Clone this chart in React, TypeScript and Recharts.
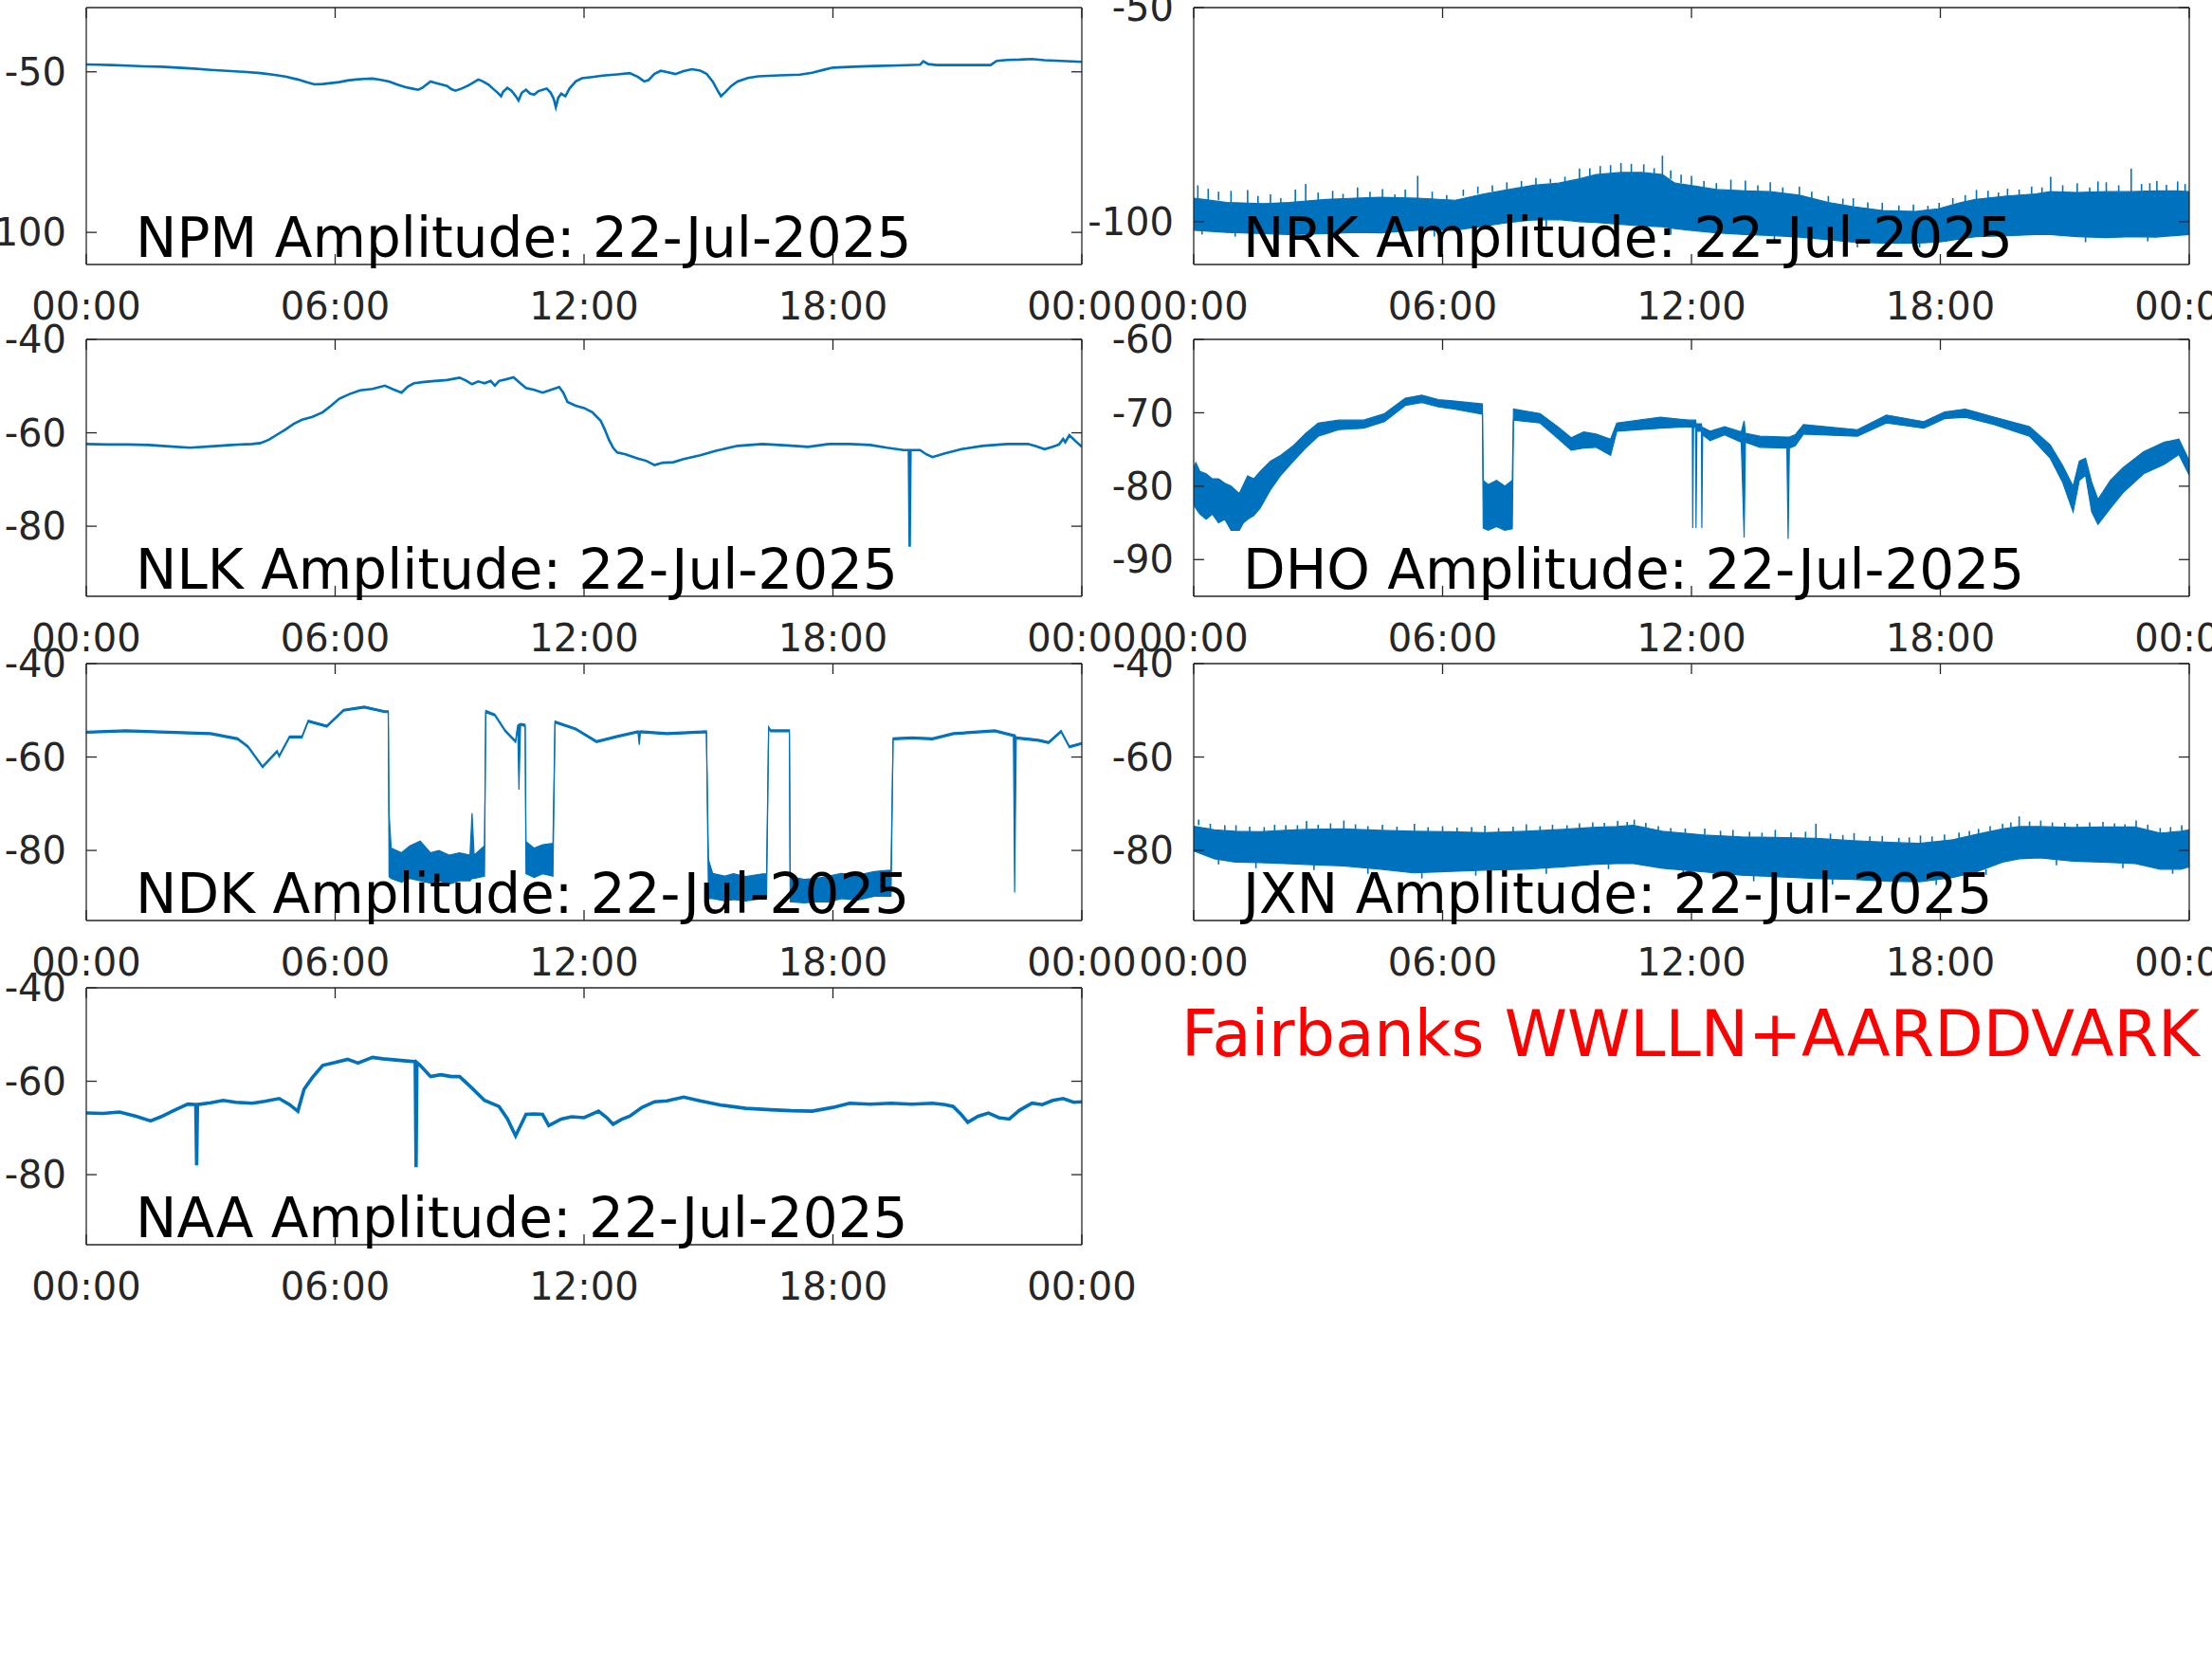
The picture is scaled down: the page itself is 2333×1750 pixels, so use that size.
import React from 'react';
import { ComposedChart, Line, Area, XAxis, YAxis, ReferenceLine } from 'recharts';

const BLUE = '#0072BD';
const AXIS = '#262626';
const FONT = '"DejaVu Sans", Verdana, sans-serif';

const hourTicks = [0, 6, 12, 18, 24];
const hourLabels = ['00:00', '06:00', '12:00', '18:00', '00:00'];
const dateLabel = '22-Jul-2025';
const siteLabel = 'Fairbanks WWLLN+AARDDVARK';

// thin traces: [hour, dB]
const npmTrace: [number, number][] = [
  [0, -47.7], [0.3, -47.8], [0.6, -47.9], [1.0, -48.1], [1.4, -48.3], [1.8, -48.4], [2.2, -48.7],
  [2.6, -49.0], [3.0, -49.4], [3.4, -49.7], [3.8, -50.0], [4.2, -50.4], [4.5, -50.9], [4.8, -51.5],
  [5.1, -52.4], [5.3, -53.2], [5.5, -53.9], [5.7, -53.8], [5.9, -53.5], [6.1, -53.2], [6.3, -52.7],
  [6.5, -52.4], [6.7, -52.2], [6.9, -52.1], [7.1, -52.5], [7.3, -53.0], [7.5, -54.0], [7.7, -54.8],
  [7.85, -55.2], [8.0, -55.6], [8.1, -55.0], [8.2, -54.0], [8.3, -53.0], [8.4, -53.4], [8.55, -53.9],
  [8.7, -54.4], [8.8, -55.4], [8.9, -55.9], [9.05, -55.2], [9.2, -54.3], [9.35, -53.2], [9.45, -52.4],
  [9.55, -52.9], [9.7, -54.0], [9.8, -55.2], [9.9, -56.3], [10.0, -57.6], [10.05, -56.2], [10.15, -55.0],
  [10.25, -55.9], [10.35, -57.5], [10.42, -58.9], [10.5, -56.5], [10.6, -55.6], [10.7, -56.8],
  [10.8, -57.1], [10.9, -56.0], [11.0, -55.6], [11.1, -55.2], [11.2, -56.6], [11.27, -58.5],
  [11.32, -61.0], [11.38, -58.0], [11.45, -56.8], [11.55, -57.6], [11.65, -55.2], [11.8, -53.0],
  [11.95, -52.0], [12.2, -51.6], [12.45, -51.2], [12.8, -50.8], [13.1, -50.4], [13.3, -51.6],
  [13.45, -53.0], [13.55, -52.6], [13.7, -50.6], [13.85, -49.7], [14.0, -50.1], [14.2, -50.7],
  [14.4, -49.8], [14.6, -49.2], [14.8, -49.6], [14.95, -50.6], [15.1, -53.0], [15.25, -56.5],
  [15.3, -57.6], [15.4, -56.4], [15.55, -54.4], [15.7, -53.0], [15.95, -51.9], [16.2, -51.4],
  [16.7, -51.1], [17.2, -50.9], [17.5, -50.3], [17.8, -49.3], [18.0, -48.7], [18.5, -48.4],
  [19.0, -48.2], [19.6, -48.0], [20.1, -47.8], [20.18, -46.7], [20.3, -47.6], [20.5, -47.9],
  [21.0, -47.9], [21.5, -47.9], [21.8, -47.9], [21.95, -46.6], [22.2, -46.3], [22.5, -46.2],
  [22.8, -46.0], [23.1, -46.4], [23.5, -46.6], [24.0, -46.9],
];

const nlkTrace: [number, number][] = [
  [0, -62.4], [0.5, -62.5], [1.0, -62.5], [1.5, -62.6], [2.0, -62.9], [2.5, -63.2], [3.0, -62.9],
  [3.5, -62.6], [4.0, -62.4], [4.2, -62.2], [4.4, -61.5], [4.6, -60.4], [4.8, -59.3], [5.0, -58.1],
  [5.2, -57.2], [5.45, -56.6], [5.7, -55.6], [5.9, -54.2], [6.1, -52.7], [6.35, -51.7], [6.6, -50.9],
  [6.9, -50.6], [7.2, -49.9], [7.4, -50.7], [7.6, -51.4], [7.75, -50.1], [7.9, -49.4], [8.15, -49.1],
  [8.4, -48.9], [8.7, -48.7], [9.0, -48.2], [9.15, -48.8], [9.3, -49.6], [9.45, -49.0], [9.6, -49.4],
  [9.75, -48.9], [9.85, -49.9], [9.95, -48.9], [10.1, -48.6], [10.3, -48.1], [10.45, -49.3],
  [10.6, -50.4], [10.8, -50.8], [11.0, -51.4], [11.2, -50.8], [11.4, -50.2], [11.5, -51.4],
  [11.6, -53.4], [11.8, -54.2], [12.0, -54.7], [12.2, -55.6], [12.4, -57.4], [12.5, -59.3],
  [12.6, -61.5], [12.7, -63.2], [12.8, -64.2], [13.0, -64.6], [13.3, -65.5], [13.5, -66.0],
  [13.7, -66.9], [13.9, -66.4], [14.15, -66.3], [14.4, -65.6], [14.8, -64.8], [15.2, -63.8],
  [15.7, -62.8], [16.0, -62.6], [16.3, -62.4], [16.9, -62.7], [17.4, -63.0], [17.9, -62.4],
  [18.4, -62.4], [18.9, -62.6], [19.3, -63.2], [19.7, -63.7], [19.83, -63.7], [19.85, -84.4],
  [19.87, -63.7], [20.1, -63.7], [20.25, -64.6], [20.4, -65.2], [20.7, -64.4], [21.1, -63.5],
  [21.6, -62.8], [22.2, -62.4], [22.7, -62.4], [22.9, -62.9], [23.1, -63.5], [23.3, -63.0],
  [23.45, -62.5], [23.55, -61.3], [23.6, -62.0], [23.7, -60.5], [23.85, -61.8], [24, -63],
];

const naaTrace: [number, number][] = [
  [0, -66.8], [0.4, -66.9], [0.8, -66.6], [1.2, -67.5], [1.55, -68.5], [1.8, -67.6], [2.1, -66.3],
  [2.45, -64.9], [2.64, -65], [2.66, -78], [2.68, -65], [3.0, -64.6], [3.3, -64.1], [3.6, -64.5],
  [4.0, -64.7], [4.3, -64.3], [4.65, -63.7], [4.9, -65.0], [5.1, -66.4], [5.25, -61.7], [5.45, -59.2],
  [5.7, -56.6], [6.0, -56.0], [6.3, -55.3], [6.55, -56.1], [6.9, -54.9], [7.15, -55.2], [7.4, -55.4],
  [7.65, -55.6], [7.93, -55.8], [7.95, -78.4], [7.97, -56.0], [8.05, -56.6], [8.3, -59.0],
  [8.55, -58.6], [8.8, -59.0], [9.0, -59.0], [9.3, -61.5], [9.6, -64.1], [9.95, -65.4], [10.15, -68.0],
  [10.35, -71.7], [10.6, -67.1], [10.8, -67.0], [11.0, -67.1], [11.15, -69.5], [11.45, -68.1],
  [11.7, -67.6], [12.0, -67.8], [12.35, -66.4], [12.55, -67.8], [12.7, -69.2], [12.9, -68.2],
  [13.1, -67.5], [13.4, -65.6], [13.7, -64.4], [14.0, -64.2], [14.4, -63.4], [14.8, -64.2],
  [15.3, -65.1], [15.9, -65.8], [16.5, -66.1], [17.0, -66.3], [17.5, -66.4], [18.0, -65.6],
  [18.4, -64.7], [18.9, -64.9], [19.4, -64.7], [19.9, -64.9], [20.4, -64.7], [20.7, -65.0],
  [20.9, -65.4], [21.1, -67.2], [21.25, -68.8], [21.5, -67.5], [21.75, -66.8], [22.0, -67.8],
  [22.25, -68.1], [22.5, -66.2], [22.8, -64.7], [23.05, -65.0], [23.3, -64.1], [23.55, -63.7],
  [23.8, -64.5], [24, -64.4],
];

// noisy traces: [hour, low dB, high dB]
const nrkBand: [number, number, number][] = [
  [0, -102, -94.5], [0.8, -102.5, -95.5], [1.7, -102.8, -95.8], [2.3, -103, -95.5], [3.2, -102.8, -94.8],
  [3.9, -102.5, -94.5], [4.5, -102.6, -94.3], [5.4, -102, -94.5], [6.3, -102, -95], [7.0, -101, -93.5],
  [7.6, -100.2, -92.5], [8.2, -99.6, -91.5], [8.8, -99.5, -91], [9.3, -100, -90], [9.7, -100.2, -89],
  [10.3, -100.6, -88.5], [10.8, -101, -88.5], [11.3, -101.2, -89], [11.6, -101.6, -91], [11.95, -102, -91.5],
  [12.6, -102.6, -92.5], [13.3, -103, -92.8], [13.9, -103.2, -93], [14.6, -103.6, -93.8], [15.3, -104.2, -95.5],
  [15.9, -104.8, -96.5], [16.6, -105, -97.4], [17.4, -105, -97.6], [17.95, -104.8, -97], [18.5, -104, -95.5],
  [18.85, -103.5, -94.8], [19.6, -103.3, -94], [20.3, -103, -93.5], [20.65, -103, -93], [21.3, -103.5, -93.2],
  [22.0, -103.7, -93], [22.6, -103.5, -93], [23.2, -103.6, -92.8], [23.7, -103.2, -92.8], [24, -103, -93],
];

// noise spikes: [hour, from dB, to dB]
const nrkSpikes: [number, number, number][] = [
  [0.1, -95, -91.5], [0.35, -95, -92.3], [0.6, -95, -93], [0.9, -95.5, -92.8], [1.3, -96, -92.6],
  [1.55, -96, -94], [1.85, -96, -93.6], [2.1, -96, -94.5], [2.45, -96, -92.5], [2.7, -96, -91.2],
  [3.0, -95.5, -93.2], [3.35, -95, -92.8], [3.6, -95, -93.5], [3.95, -95, -92], [4.25, -95, -93],
  [4.55, -95, -92.4], [4.85, -95, -93.6], [5.1, -95, -92.5], [5.4, -95, -89.3], [5.75, -95, -93],
  [6.1, -95, -93.8], [6.5, -94, -92.5], [6.85, -93.5, -91.8], [7.2, -93, -91.5], [7.55, -92.5, -90.8],
  [7.9, -92, -90.5], [8.25, -91.5, -89.8], [8.6, -91, -90], [8.95, -91, -89.5], [9.3, -90, -87.6],
  [9.55, -89.5, -87.5], [9.8, -89, -87], [10.05, -89, -86.8], [10.3, -88.5, -86.3], [10.55, -88.5, -86.5],
  [10.85, -88.5, -86.6], [11.1, -89, -87.5], [11.3, -89, -84.6], [11.5, -90, -88], [11.75, -91, -89],
  [12.0, -91.5, -89.3], [12.3, -92, -90.5], [12.6, -92.5, -91], [12.95, -92.8, -90.2], [13.3, -92.8, -90.4],
  [13.6, -93, -91.5], [13.9, -93, -90.8], [14.2, -93.5, -92], [14.6, -93.8, -91.8], [14.9, -94.5, -93],
  [15.3, -95.5, -94], [15.65, -96, -94.6], [15.9, -96.5, -94.5], [16.25, -97, -95.5], [16.6, -97.4, -95.6],
  [17.0, -97.5, -96.2], [17.35, -97.6, -96], [17.7, -97.4, -96.3], [17.97, -97, -95.6], [18.3, -96, -94.5],
  [18.6, -95.5, -93.8], [18.87, -94.8, -92.6], [19.15, -94.5, -92.8], [19.4, -94.3, -93.2], [19.62, -94, -92.3],
  [19.9, -93.8, -92.5], [20.2, -93.5, -91.8], [20.45, -93.2, -92], [20.66, -93, -89.5], [20.95, -93, -91.5],
  [21.3, -93.2, -91], [21.6, -93.2, -92], [21.8, -93, -90.6], [22.0, -93, -90.8], [22.3, -93, -91.5],
  [22.6, -93, -87.6], [22.85, -92.8, -91.2], [23.05, -92.8, -91], [23.22, -92.8, -90.5], [23.45, -92.8, -91.4],
  [23.72, -92.8, -90.6], [23.9, -93, -91.2],
  [0.2, -102, -103], [1.0, -102.5, -103.5], [2.0, -103, -104], [5.8, -102, -103.5], [8.5, -99.5, -101.5],
  [11.5, -101.5, -103], [14.0, -103.2, -104.5], [16.0, -104.8, -106], [17.5, -105, -106], [19.5, -103.3, -104.5],
  [21.5, -103.5, -104.8], [23.0, -103.6, -104.6],
];

const dhoBand: [number, number, number][] = [
  [0, -82.5, -77.5], [0.05, -83, -76.8], [0.15, -83.8, -78], [0.3, -84.5, -78.3], [0.45, -83.8, -79],
  [0.6, -85, -79], [0.75, -84.5, -79.6], [0.9, -86, -80], [1.0, -86, -80.5], [1.1, -86, -81],
  [1.2, -85, -79.8], [1.3, -84.5, -78.6], [1.45, -84, -79], [1.6, -83, -78], [1.85, -80.5, -76.6],
  [2.1, -78.5, -75.8], [2.4, -76.6, -74.5], [2.7, -74.8, -72.8], [3.0, -73.2, -71.4], [3.5, -72.3, -71],
  [4.1, -72.1, -71], [4.6, -71.2, -70.1], [5.1, -69, -68], [5.5, -68.6, -67.6], [5.9, -69.2, -68.2],
  [6.3, -69.5, -68.4], [6.96, -70.2, -68.8], [6.98, -85.7, -79.2], [7.1, -86, -79.8], [7.3, -85.5, -79.2],
  [7.5, -86, -80], [7.68, -85.8, -79.2], [7.71, -71, -69.5], [8.35, -71.4, -70.1], [8.8, -73.6, -72],
  [9.1, -75.1, -73.4], [9.4, -74.8, -72.6], [9.7, -74.7, -72.9], [10.05, -75.8, -73.6], [10.2, -72.5, -71.4],
  [11.25, -72.1, -70.6], [11.95, -71.9, -71], [12.02, -72, -71], [12.03, -85.7, -71], [12.05, -72, -71],
  [12.1, -72, -71], [12.11, -85.7, -71.5], [12.13, -72.5, -71.5], [12.24, -72.5, -71.5],
  [12.25, -85.7, -72], [12.27, -73, -72], [12.45, -73.8, -72.5], [12.8, -73, -71.9], [13.2, -74, -72.6],
  [13.27, -87, -71.1], [13.3, -74, -72.8], [13.65, -74.7, -73.2], [14.3, -74.8, -73.3],
  [14.33, -87.2, -73.3], [14.36, -74.8, -73.3], [14.5, -74.5, -73], [14.7, -72.9, -71.6],
  [16, -73.2, -72.3], [16.7, -71.4, -70.3], [17.6, -72.1, -71.2], [18.1, -70.8, -69.9],
  [18.6, -70.6, -69.5], [19.3, -71.6, -70.6], [20.15, -73.2, -71.9], [20.65, -76.2, -74.4],
  [20.95, -79.5, -77.2], [21.2, -83.5, -80], [21.35, -79.2, -76.6], [21.5, -78.5, -76.2],
  [21.65, -83.5, -79.5], [21.8, -85.2, -81.8], [22.1, -83, -79.2], [22.4, -80.9, -77.5],
  [22.9, -78.3, -75.3], [23.4, -77, -74], [23.75, -75.7, -73.6], [24, -78.5, -76.5],
];

const ndkBand: [number, number, number][] = [
  [0, -54.9, -54.5], [0.95, -54.6, -54.2], [3.0, -55.2, -54.8], [3.65, -56.3, -55.9], [3.9, -58, -57.6],
  [4.25, -62.3, -61.9], [4.6, -59, -58.6], [4.65, -60, -59.6], [4.9, -55.9, -55.5], [5.2, -55.9, -55.5],
  [5.35, -52.5, -52.1], [5.8, -53.6, -53.2], [6.2, -50.2, -49.8], [6.7, -49.5, -49.1], [7.2, -50.5, -50.1],
  [7.28, -50.5, -50.1], [7.3, -85.6, -72], [7.35, -86, -79.5], [7.6, -86.8, -80.5], [7.8, -86, -79],
  [8.05, -86.5, -78], [8.3, -87, -80.5], [8.5, -86.5, -80], [8.75, -87.2, -81], [9.0, -86.5, -80.5],
  [9.25, -86.5, -81], [9.3, -86, -72], [9.35, -86, -81], [9.6, -85.5, -79], [9.63, -50.5, -50],
  [9.85, -51.2, -50.8], [10.1, -54.6, -54.2], [10.35, -56.9, -56.5], [10.4, -53.6, -53.2], [10.43, -67, -53],
  [10.47, -53.2, -52.8], [10.58, -53.5, -53], [10.6, -85, -78.1], [10.8, -85.8, -79.5], [11.0, -85, -78.8],
  [11.25, -85.5, -78.5], [11.3, -52.7, -52.3], [11.8, -54.2, -53.8], [12.3, -56.9, -56.5],
  [12.8, -55.8, -55.4], [13.3, -54.8, -54.4], [13.33, -57.4, -54.5], [13.36, -54.8, -54.4],
  [14.0, -55.2, -54.8], [14.95, -54.8, -54.4], [15.0, -90.3, -82], [15.1, -90.3, -84.9],
  [15.4, -90.8, -85.5], [15.6, -90.5, -85], [15.9, -90.8, -85.6], [16.3, -90.3, -85], [16.4, -90, -85],
  [16.45, -53.9, -53.5], [16.5, -54.6, -54.2], [16.95, -54.6, -54.2], [16.97, -91, -85.6],
  [17.3, -91.2, -86.2], [17.6, -91, -86], [17.9, -91, -85.5], [18.2, -90.3, -84.9], [18.6, -90.6, -85.3],
  [19.0, -89.8, -84.5], [19.4, -89.8, -84.2], [19.45, -56.3, -55.9], [19.9, -56.1, -55.7],
  [20.4, -56.3, -55.9], [20.9, -55.2, -54.8], [21.9, -54.6, -54.2], [22.35, -55.6, -55.2],
  [22.38, -89, -55.2], [22.42, -56.1, -55.7], [22.95, -56.6, -56.2], [23.2, -57.1, -56.7],
  [23.5, -54.7, -54.3], [23.7, -58, -57.6], [24, -57.3, -56.9],
];

const jxnBand: [number, number, number][] = [
  [0, -80.1, -74.8], [0.5, -81.8, -75.6], [1.0, -82.5, -75.9], [1.6, -82.6, -76], [2.2, -82.8, -75.7],
  [2.7, -83, -75.5], [3.6, -83.3, -75.4], [4.5, -84, -75.7], [5.3, -84.8, -75.9], [6.2, -84.5, -76],
  [7.0, -84.2, -76.2], [8.0, -84, -75.9], [8.9, -83.5, -75.5], [9.6, -83, -75.1], [10.2, -82.8, -74.9],
  [10.6, -82.8, -74.6], [11.3, -83.8, -75.9], [12.3, -84.6, -76.7], [13.2, -85.3, -77.1], [14.0, -85.6, -77.2],
  [15.0, -86, -77.4], [15.9, -86.2, -77.9], [16.8, -86.6, -78.3], [17.5, -86.7, -78.5], [18.3, -85.8, -77.7],
  [18.9, -84.5, -76.5], [19.5, -82.5, -75.4], [19.9, -81.8, -74.9], [20.4, -81.6, -74.9], [21.2, -82.3, -75.1],
  [21.9, -82.5, -75], [22.7, -82.8, -75], [23.3, -84, -76.3], [23.8, -84, -75.9], [24, -83.5, -75.6],
];

const jxnSpikes: [number, number, number][] = [
  [0.12, -74.6, -73.4], [0.4, -75.4, -74.3], [0.75, -75.8, -74.6], [1.02, -75.9, -74.6], [1.35, -76, -74.9],
  [1.7, -76, -75], [1.95, -75.8, -74.5], [2.22, -75.7, -74.6], [2.5, -75.6, -74.6], [2.72, -75.5, -73.7],
  [3.0, -75.4, -74.5], [3.3, -75.4, -74.2], [3.62, -75.4, -73.6], [3.9, -75.5, -74.4], [4.2, -75.6, -74.8],
  [4.55, -75.7, -74.5], [4.9, -75.8, -74.9], [5.32, -75.9, -74.3], [5.65, -76, -75], [6.0, -76, -74.8],
  [6.35, -76, -75.1], [6.7, -76.1, -75], [7.02, -76.2, -74.7], [7.35, -76.1, -75.2], [7.7, -76, -74.9],
  [8.02, -75.9, -74.4], [8.35, -75.8, -74.8], [8.65, -75.6, -74.5], [9.0, -75.5, -74.6], [9.3, -75.3, -74.2],
  [9.62, -75.1, -74], [9.9, -75, -74.1], [10.22, -74.9, -73.7], [10.45, -74.7, -73.9], [10.62, -74.6, -73.4],
  [10.9, -75.2, -74.1], [11.2, -75.7, -74.8], [11.5, -76.1, -75.2], [11.85, -76.4, -75.3], [12.32, -76.7, -75.3],
  [12.7, -76.9, -75.8], [13.0, -77, -75.6], [13.4, -77.1, -76], [13.7, -77.1, -76.2], [14.02, -77.2, -75.6],
  [14.4, -77.3, -76.2], [14.75, -77.3, -76], [15.0, -77.4, -74.3], [15.35, -77.6, -76.4], [15.65, -77.8, -76.7],
  [15.92, -77.9, -76.3], [16.3, -78.1, -77], [16.6, -78.2, -76.9], [17.0, -78.4, -77.3], [17.25, -78.5, -77.2],
  [17.52, -78.5, -76.8], [17.8, -78.2, -77], [18.1, -77.9, -76.6], [18.45, -77.4, -76.2], [18.7, -76.9, -75.8],
  [18.92, -76.5, -75.4], [19.2, -76, -74.8], [19.5, -75.4, -74.3], [19.7, -75.1, -74], [19.9, -74.9, -72.7],
  [20.15, -74.9, -73.8], [20.42, -74.9, -73.6], [20.7, -75, -74], [21.0, -75.1, -74.1], [21.3, -75.1, -74.3],
  [21.6, -75, -74], [21.92, -75, -73.9], [22.2, -75, -74.2], [22.45, -75, -74.4], [22.72, -75, -73.6],
  [23.0, -75.6, -74.5], [23.3, -76.3, -75.2], [23.55, -76.1, -75], [23.82, -75.9, -74.6],
  [0.6, -81.8, -83], [1.5, -82.6, -83.8], [2.9, -83, -84.2], [4.2, -83.8, -85], [5.5, -84.8, -86],
  [6.8, -84.3, -85.4], [8.5, -83.8, -85], [10.0, -82.9, -84], [11.8, -84.2, -85.5], [13.5, -85.4, -86.6],
  [15.4, -86.1, -87.3], [16.5, -86.5, -87.6], [17.9, -86.2, -87.4], [19.1, -84, -85.2], [20.8, -82, -83.2],
  [22.4, -82.7, -83.8], [23.6, -84, -85],
];

type Panel = {
  name: string;
  col: number;
  row: number;
  domain: [number, number];
  ticks: number[];
  trace?: [number, number][];
  band?: [number, number, number][];
  spikes?: [number, number, number][];
  lw?: number;
};

const panels: Panel[] = [
  { name: 'NPM', col: 0, row: 0, domain: [-110, -30], ticks: [-100, -50], trace: npmTrace, lw: 2.6 },
  { name: 'NRK', col: 1, row: 0, domain: [-110, -50], ticks: [-100, -50], band: nrkBand, spikes: nrkSpikes },
  { name: 'NLK', col: 0, row: 1, domain: [-95, -40], ticks: [-80, -60, -40], trace: nlkTrace, lw: 2.6 },
  { name: 'DHO', col: 1, row: 1, domain: [-95, -60], ticks: [-90, -80, -70, -60], band: dhoBand },
  { name: 'NDK', col: 0, row: 2, domain: [-95, -40], ticks: [-80, -60, -40], band: ndkBand },
  { name: 'JXN', col: 1, row: 2, domain: [-95, -40], ticks: [-80, -60, -40], band: jxnBand, spikes: jxnSpikes },
  { name: 'NAA', col: 0, row: 3, domain: [-95, -40], ticks: [-80, -60, -40], trace: naaTrace, lw: 3.6 },
];

const PAGE_W = 2333;
const PAGE_H = 1750;
const PLOT_W = 1050;
const PLOT_H = 271;
const COL_DIV = [0, 1120];
const COL_PLOT = [91, 1259];
const ROW_TOP = [8, 358, 700, 1042];
const TOP_PAD = 30;
const X_AXIS_H = 70;

const tickFont = { fill: AXIS, fontSize: 40, fontFamily: FONT };
const frame = { stroke: AXIS, strokeWidth: 1.3 };
const NoLabel = () => <g />;

const StationChart = ({ p }: { p: Panel }) => {
  const divLeft = COL_DIV[p.col];
  const yAxisW = COL_PLOT[p.col] - divLeft;
  const width = p.col === 0 ? yAxisW + PLOT_W + 70 : PAGE_W - divLeft;
  const rightPad = width - yAxisW - PLOT_W;
  const data = p.band
    ? p.band.map(([t, lo, hi]) => ({ t, r: [lo, hi] }))
    : (p.trace || []).map(([t, v]) => ({ t, v }));

  return (
    <div style={{ position: 'absolute', left: divLeft, top: ROW_TOP[p.row] - TOP_PAD }}>
      <ComposedChart
        width={width}
        height={TOP_PAD + PLOT_H + X_AXIS_H}
        data={data}
        margin={{ top: TOP_PAD, right: rightPad, bottom: 0, left: 0 }}
      >
        <XAxis
          xAxisId="b" dataKey="t" type="number" domain={[0, 24]} ticks={hourTicks} interval={0}
          tickFormatter={(_v: number, i: number) => hourLabels[i]} height={X_AXIS_H}
          tickLine={false} tickSize={0} tickMargin={30} axisLine={frame} tick={tickFont} allowDataOverflow
        />
        <XAxis
          xAxisId="bm" dataKey="t" type="number" domain={[0, 24]} ticks={hourTicks} interval={0}
          orientation="bottom" mirror height={1} tick={NoLabel} tickSize={11} tickLine={frame} axisLine={false} allowDataOverflow
        />
        <XAxis
          xAxisId="t" dataKey="t" type="number" domain={[0, 24]} ticks={hourTicks} interval={0}
          orientation="top" mirror height={1} tick={NoLabel} tickSize={11} tickLine={frame} axisLine={frame} allowDataOverflow
        />
        <YAxis
          yAxisId="l" type="number" domain={p.domain} ticks={p.ticks} interval={0} width={yAxisW}
          tickLine={false} tickSize={0} tickMargin={21} axisLine={frame} tick={tickFont} allowDataOverflow
        />
        <YAxis
          yAxisId="lm" type="number" domain={p.domain} ticks={p.ticks} interval={0} mirror width={1}
          tick={NoLabel} tickSize={11} tickLine={frame} axisLine={false} allowDataOverflow
        />
        <YAxis
          yAxisId="r" type="number" domain={p.domain} ticks={p.ticks} interval={0} orientation="right" mirror width={1}
          tick={NoLabel} tickSize={11} tickLine={frame} axisLine={frame} allowDataOverflow
        />
        {p.band ? (
          <Area
            xAxisId="b" yAxisId="l" dataKey="r" type="linear" stroke={BLUE} strokeWidth={1.2}
            fill={BLUE} fillOpacity={1} dot={false} activeDot={false} isAnimationActive={false}
          />
        ) : (
          <Line
            xAxisId="b" yAxisId="l" dataKey="v" type="linear" stroke={BLUE} strokeWidth={p.lw}
            dot={false} activeDot={false} isAnimationActive={false}
          />
        )}
        {(p.spikes || []).map(([t, from, to], i) => (
          <ReferenceLine
            key={i}
            xAxisId="b"
            yAxisId="l"
            segment={[{ x: t, y: from }, { x: t, y: to }]}
            stroke={BLUE}
            strokeWidth={1.6}
            ifOverflow="visible"
          />
        ))}
      </ComposedChart>
    </div>
  );
};

export default function App() {
  return (
    <div
      style={{
        position: 'absolute', left: 0, top: 0, width: PAGE_W, height: PAGE_H,
        overflow: 'hidden', background: '#fff',
      }}
    >
      {panels.map((p) => (
        <StationChart key={p.name} p={p} />
      ))}
      <svg
        width={PAGE_W} height={PAGE_H}
        style={{ position: 'absolute', left: 0, top: 0, pointerEvents: 'none' }}
      >
        {panels.map((p) => (
          <text
            key={p.name}
            x={COL_PLOT[p.col] + 52}
            y={ROW_TOP[p.row] + PLOT_H - 8}
            fontFamily={FONT}
            fontSize={58}
            fill="#000"
          >
            {`${p.name} Amplitude: ${dateLabel}`}
          </text>
        ))}
        <text x={1246} y={1114} fontFamily={FONT} fontSize={67} fill="#FF0000">
          {siteLabel}
        </text>
      </svg>
    </div>
  );
}
